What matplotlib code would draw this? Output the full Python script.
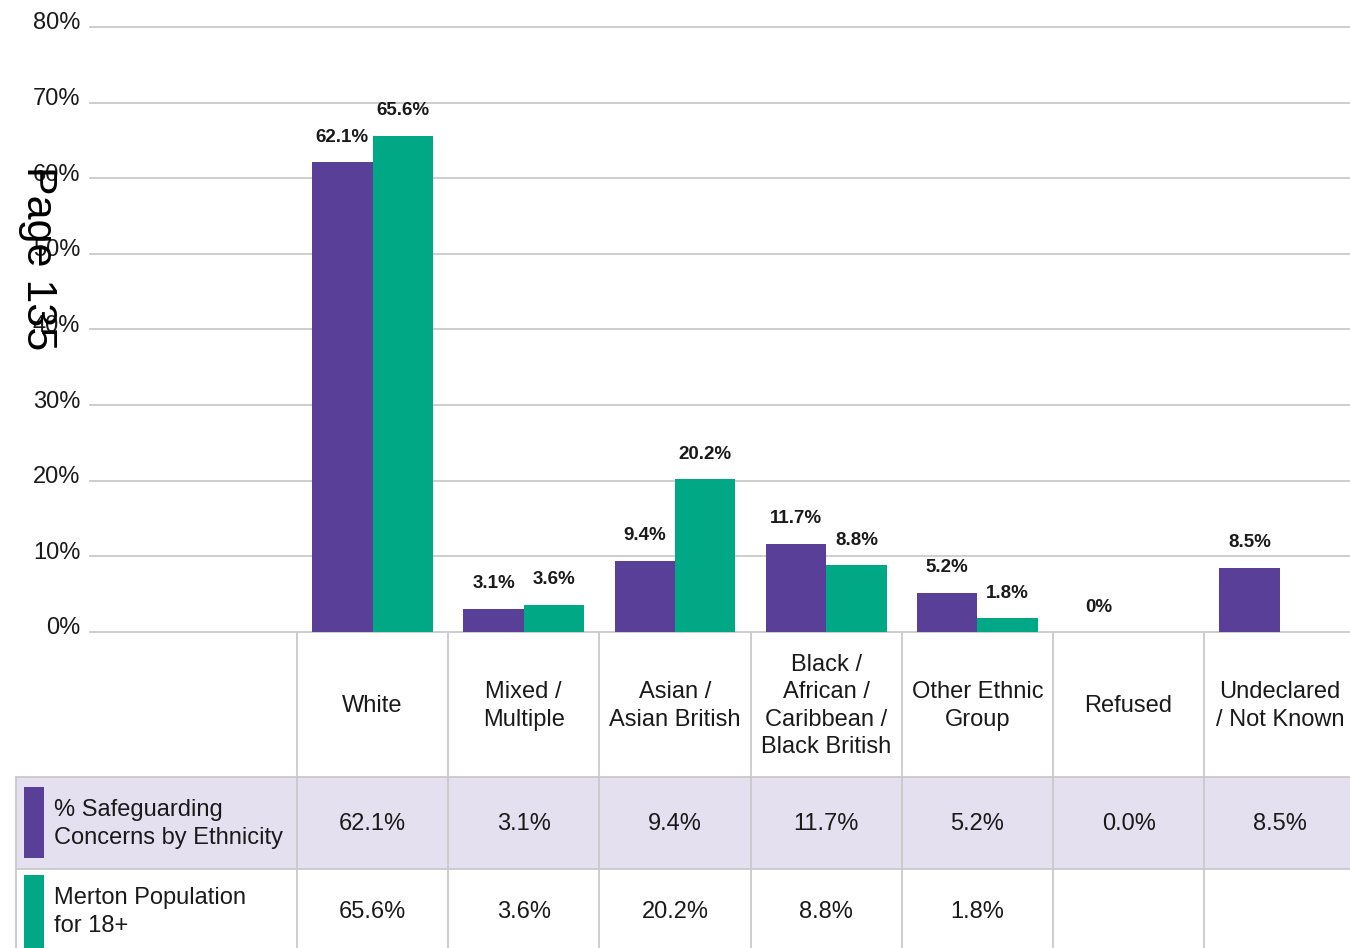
import matplotlib
matplotlib.use('Agg')
import matplotlib.pyplot as plt
from matplotlib.patches import Rectangle
from matplotlib.transforms import ScaledTranslation

plt.rcParams['font.family'] = ['Liberation Sans', 'DejaVu Sans']

# data
categories = ['White', 'Mixed /\nMultiple', 'Asian /\nAsian British',
              'Black /\nAfrican /\nCaribbean /\nBlack British',
              'Other Ethnic\nGroup', 'Refused', 'Undeclared\n/ Not Known']
safeguarding = [62.1, 3.1, 9.4, 11.7, 5.2, 0.0, 8.5]
population = [65.6, 3.6, 20.2, 8.8, 1.8, None, None]
series_names = ['% Safeguarding\nConcerns by Ethnicity', 'Merton Population\nfor 18+']
yticks = [0, 10, 20, 30, 40, 50, 60, 70, 80]

purple = '#5a3f99'
green = '#00a886'
lavender = '#e4e0f0'
gridc = '#c9c9c9'
txt = '#1a1a1a'

W, H = 1350, 948
fig = plt.figure(figsize=(13.5, 9.48), dpi=100)

# pixel layout
col_w = 151.2
col0 = 297.0
def px2col(px):
    return (px - col0) / col_w - 0.5

ax = fig.add_axes([90 / W, (H - 632) / H, 1260 / W, (632 - 27) / H])
ax.set_xlim(px2col(90), px2col(1350))
ax.set_ylim(0, 80)
for s in ax.spines.values():
    s.set_visible(False)
ax.set_xticks([])
ax.set_yticks(yticks)
ax.set_yticklabels([f'{v}%' for v in yticks], fontsize=17, color=txt)
ax.tick_params(axis='y', length=0, pad=7)
# labels sit a little above their gridline
for lab in ax.get_yticklabels():
    lab.set_transform(lab.get_transform() + ScaledTranslation(0, 6 / 100, fig.dpi_scale_trans))
for v in yticks:
    ax.axhline(v, color=gridc, lw=1.3, zorder=0, clip_on=False)

bw = 0.4
for i in range(len(categories)):
    v1 = safeguarding[i]
    ax.bar(i - bw / 2, v1, width=bw, color=purple, zorder=2)
    lab = '0%' if v1 == 0 else f'{v1}%'
    ax.annotate(lab, (i - bw / 2, v1), xytext=(0, 18), textcoords='offset points',
                ha='center', va='center', fontsize=13.5, fontweight='bold', color=txt)
    v2 = population[i]
    if v2 is not None:
        ax.bar(i + bw / 2, v2, width=bw, color=green, zorder=2)
        ax.annotate(f'{v2}%', (i + bw / 2, v2), xytext=(0, 18), textcoords='offset points',
                    ha='center', va='center', fontsize=13.5, fontweight='bold', color=txt)

# data table underneath
tb = fig.add_axes([0, 0, 1, (H - 632) / H])
tb.set_xlim(px2col(0), px2col(1350))
tb.set_ylim(316, 0)
tb.axis('off')

left = px2col(16)
right = px2col(1350)
tb.add_patch(Rectangle((left, 145), right - left, 92, color=lavender, lw=0, zorder=0))
tb.plot([left, right], [145, 145], color=gridc, lw=1.3)
tb.plot([left, right], [237, 237], color=gridc, lw=1.3)
tb.plot([left, left], [145, 316], color=gridc, lw=1.3)
for k in range(len(categories)):
    tb.plot([k - 0.5, k - 0.5], [0, 316], color=gridc, lw=1.3)

for i, c in enumerate(categories):
    tb.text(i, 74, c, ha='center', va='center', fontsize=17, color=txt, linespacing=1.33)
    tb.text(i, 192, f'{safeguarding[i]:.1f}%', ha='center', va='center', fontsize=17, color=txt)
    if population[i] is not None:
        tb.text(i, 280, f'{population[i]:.1f}%', ha='center', va='center', fontsize=17, color=txt)

sw_l = px2col(24)
sw_w = px2col(44) - sw_l
tb.add_patch(Rectangle((sw_l, 155), sw_w, 71, color=purple, lw=0))
tb.add_patch(Rectangle((sw_l, 243), sw_w, 80, color=green, lw=0))
tb.text(px2col(54), 192, series_names[0], ha='left', va='center', fontsize=17,
        color=txt, linespacing=1.33)
tb.text(px2col(54), 280, series_names[1], ha='left', va='center', fontsize=17,
        color=txt, linespacing=1.33)

# page stamp overlay
fig.text(38 / W, 1 - 258 / H, 'Page 135', rotation=-90, ha='center', va='center',
         fontsize=31, color='black')

fig.savefig('out.png', dpi=100)
